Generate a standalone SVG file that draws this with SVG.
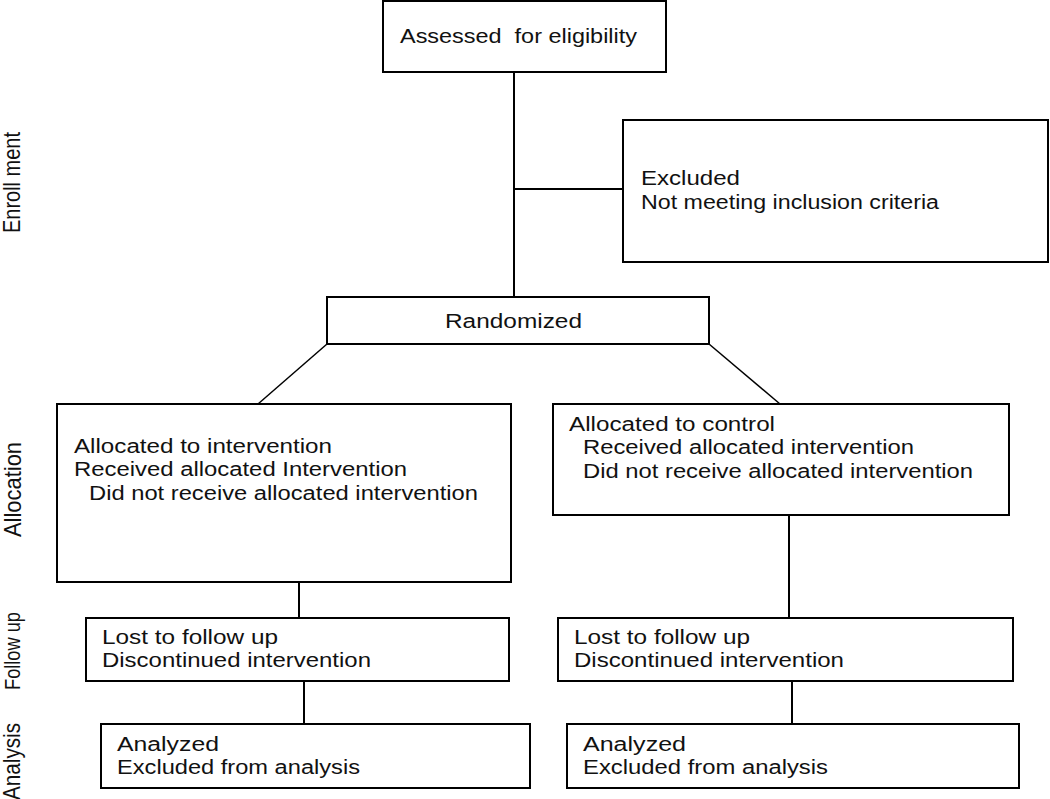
<svg xmlns="http://www.w3.org/2000/svg" width="1050" height="799" viewBox="0 0 1050 799">
<style>
  .box { fill: #fff; stroke: #000; stroke-width: 2; }
  .ln { stroke: #000; stroke-width: 2; fill: none; }
  .dg { stroke: #000; stroke-width: 1.5; fill: none; }
  text { font-family: "Liberation Sans", Arial, sans-serif; font-size: 20px; fill: #111; }
</style>
<rect width="1050" height="799" fill="#fff"/>
<g id="connectors">
  <line class="ln" x1="514" y1="72" x2="514" y2="297"/>
  <line class="ln" x1="514" y1="189" x2="623" y2="189"/>
  <line class="dg" x1="327" y1="344" x2="258" y2="404"/>
  <line class="dg" x1="709" y1="344" x2="780" y2="404"/>
  <line class="ln" x1="299" y1="582" x2="299" y2="618"/>
  <line class="ln" x1="789" y1="515" x2="789" y2="618"/>
  <line class="ln" x1="304" y1="681" x2="304" y2="724"/>
  <line class="ln" x1="792" y1="681" x2="792" y2="724"/>
</g>
<g id="labels">
  <text transform="translate(20,233) scale(1.2,1) rotate(-90)" textLength="101" lengthAdjust="spacingAndGlyphs">Enroll ment</text>
  <text transform="translate(21,537) scale(1.2,1) rotate(-90)" textLength="95" lengthAdjust="spacingAndGlyphs">Allocation</text>
  <text transform="translate(20,690) scale(1.1,1) rotate(-90)" textLength="78" lengthAdjust="spacingAndGlyphs">Follow up</text>
  <text transform="translate(20,800) scale(1.2,1) rotate(-90)" textLength="77" lengthAdjust="spacingAndGlyphs">Analysis</text>
</g>
<g id="assessed">
  <rect class="box" x="383" y="1" width="283" height="71"/>
  <text x="400" y="43" textLength="237" lengthAdjust="spacingAndGlyphs" xml:space="preserve">Assessed  for eligibility</text>
</g>
<g id="excluded">
  <rect class="box" x="623" y="120" width="425" height="142"/>
  <text x="641" y="185" textLength="99" lengthAdjust="spacingAndGlyphs">Excluded</text>
  <text x="641" y="209" textLength="298" lengthAdjust="spacingAndGlyphs">Not meeting inclusion criteria</text>
</g>
<g id="randomized">
  <rect class="box" x="327" y="297" width="382" height="47"/>
  <text x="445" y="328" textLength="137" lengthAdjust="spacingAndGlyphs">Randomized</text>
</g>
<g id="alloc-intervention">
  <rect class="box" x="57" y="404" width="454" height="178"/>
  <text x="74" y="453" textLength="258" lengthAdjust="spacingAndGlyphs">Allocated to intervention</text>
  <text x="74" y="476" textLength="333" lengthAdjust="spacingAndGlyphs">Received allocated Intervention</text>
  <text x="89" y="500" textLength="389" lengthAdjust="spacingAndGlyphs">Did not receive allocated intervention</text>
</g>
<g id="alloc-control">
  <rect class="box" x="553" y="404" width="456" height="111"/>
  <text x="569" y="431" textLength="206" lengthAdjust="spacingAndGlyphs">Allocated to control</text>
  <text x="583" y="454" textLength="331" lengthAdjust="spacingAndGlyphs">Received allocated intervention</text>
  <text x="583" y="478" textLength="390" lengthAdjust="spacingAndGlyphs">Did not receive allocated intervention</text>
</g>
<g id="followup-intervention">
  <rect class="box" x="86" y="618" width="423" height="63"/>
  <text x="102" y="644" textLength="176" lengthAdjust="spacingAndGlyphs">Lost to follow up</text>
  <text x="102" y="667" textLength="269" lengthAdjust="spacingAndGlyphs">Discontinued intervention</text>
</g>
<g id="followup-control">
  <rect class="box" x="558" y="618" width="455" height="63"/>
  <text x="574" y="644" textLength="176" lengthAdjust="spacingAndGlyphs">Lost to follow up</text>
  <text x="574" y="667" textLength="270" lengthAdjust="spacingAndGlyphs">Discontinued intervention</text>
</g>
<g id="analysis-intervention">
  <rect class="box" x="101" y="724" width="429" height="64"/>
  <text x="117" y="751" textLength="102" lengthAdjust="spacingAndGlyphs">Analyzed</text>
  <text x="117" y="774" textLength="243" lengthAdjust="spacingAndGlyphs">Excluded from analysis</text>
</g>
<g id="analysis-control">
  <rect class="box" x="567" y="724" width="452" height="64"/>
  <text x="583" y="751" textLength="103" lengthAdjust="spacingAndGlyphs">Analyzed</text>
  <text x="583" y="774" textLength="245" lengthAdjust="spacingAndGlyphs">Excluded from analysis</text>
</g>
</svg>
